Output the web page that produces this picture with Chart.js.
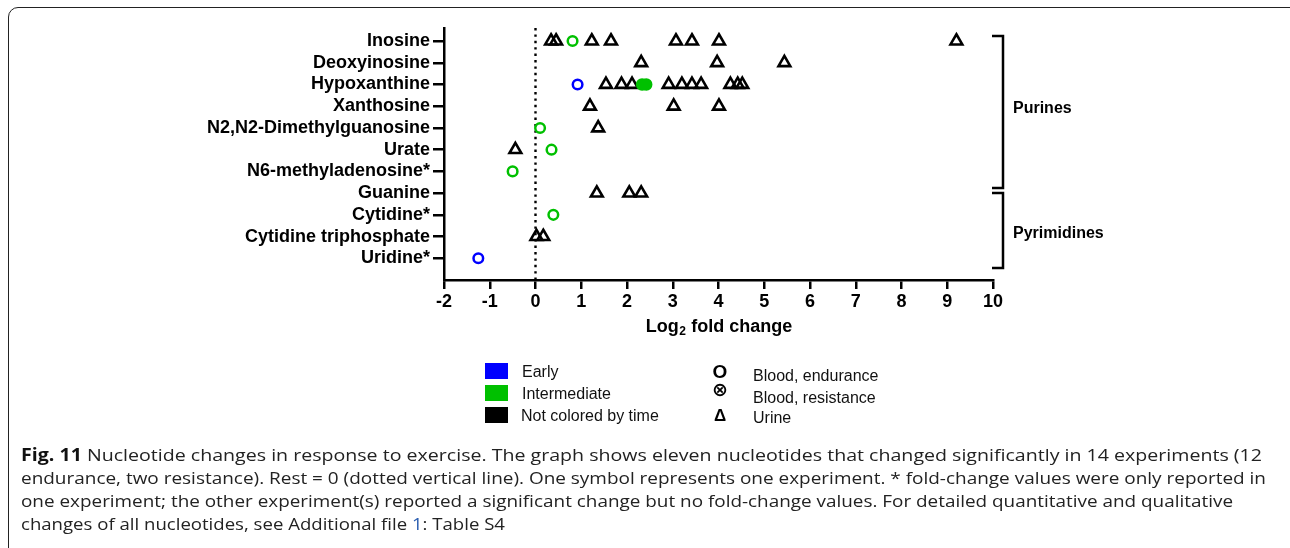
<!DOCTYPE html>
<html>
<head>
<meta charset="utf-8">
<script src="https://cdn.jsdelivr.net/npm/chart.js@4.4.1/dist/chart.umd.min.js"></script>
<style>
  html, body { margin:0; padding:0; background:#fff; }
  #wrap { position:relative; width:1290px; height:548px; overflow:hidden; background:#fff; }
  #frame { position:absolute; left:8px; top:7px; width:1320px; height:600px; border:1.6px solid #222; border-radius:10px; box-sizing:border-box; }
  canvas { position:absolute; left:0; top:0; }
  .leg { position:absolute; font-family:"Liberation Sans", Arial, sans-serif; font-size:16px; color:#111; white-space:nowrap; line-height:1; }
  .sq { position:absolute; width:23px; height:16px; }
  .sym { position:absolute; font-weight:bold; color:#000; line-height:1; transform:translate(-50%,-50%); }
  .cap { position:absolute; left:21px; font-family:"Open Sans", "Noto Sans", sans-serif; font-size:17px; color:#222; white-space:nowrap; transform-origin:0 50%; line-height:1; }
  .cap b { color:#111; }
  .cap .lnk { color:#2a5db0; }
</style>
</head>
<body>
<div id="wrap">
  <div id="frame"></div>
  <canvas id="c" width="1290" height="548"></canvas>

  <div class="sq" style="left:485px;top:363px;background:#0000ff"></div>
  <div class="sq" style="left:485px;top:385px;background:#00c000"></div>
  <div class="sq" style="left:485px;top:407px;background:#000"></div>
  <div class="leg" style="left:522px;top:364px">Early</div>
  <div class="leg" style="left:522px;top:386px">Intermediate</div>
  <div class="leg" style="left:521px;top:408px">Not colored by time</div>

  <div class="sym" style="left:720px;top:371px;font-size:19px;font-family:'Liberation Sans',Arial,sans-serif">O</div>
  <div class="sym" style="left:720px;top:389px;font-size:19px;font-family:'DejaVu Sans',sans-serif">⊗</div>
  <div class="sym" style="left:720px;top:415px;font-size:17px;font-family:'Liberation Sans',Arial,sans-serif">Δ</div>
  <div class="leg" style="left:753px;top:368px">Blood, endurance</div>
  <div class="leg" style="left:753px;top:390px">Blood, resistance</div>
  <div class="leg" style="left:753px;top:410px">Urine</div>

  <div class="cap" data-w="1241" style="top:446px"><b>Fig. 11</b> Nucleotide changes in response to exercise. The graph shows eleven nucleotides that changed significantly in 14 experiments (12</div>
  <div class="cap" data-w="1245" style="top:469px">endurance, two resistance). Rest = 0 (dotted vertical line). One symbol represents one experiment. * fold-change values were only reported in</div>
  <div class="cap" data-w="1212" style="top:492px">one experiment; the other experiment(s) reported a significant change but no fold-change values. For detailed quantitative and qualitative</div>
  <div class="cap" data-w="484" style="top:515px">changes of all nucleotides, see Additional file <span class="lnk">1</span>: Table S4</div>
</div>

<script>
// ---- data ----
const categories = ["Inosine","Deoxyinosine","Hypoxanthine","Xanthosine","N2,N2-Dimethylguanosine","Urate","N6-methyladenosine*","Guanine","Cytidine*","Cytidine triphosphate","Uridine*"];
const urine = [
  [0.34,0.45,1.23,1.65,3.07,3.42,4.01,9.20],
  [2.31,3.97,5.44],
  [1.54,1.88,2.11,2.91,3.20,3.42,3.62,4.26,4.42,4.52],
  [1.19,3.02,4.01],
  [1.37],
  [-0.44],
  [],
  [1.34,2.05,2.31],
  [],
  [0.02,0.17],
  []
];
const bloodEnduranceIntermediate = [[0.81],[],[],[],[0.10],[0.35],[-0.50],[],[0.39],[],[]];
const bloodEnduranceEarly = [[],[],[0.92],[],[],[],[],[],[],[],[-1.25]];
const bloodResistanceIntermediate = [[],[],[2.33,2.42],[],[],[],[],[],[],[],[]];
const xTicks = [-2,-1,0,1,2,3,4,5,6,7,8,9,10];
const groups = [
  {name:"Purines", from:-0.23, to:6.77},
  {name:"Pyrimidines", from:7.0, to:10.45}
];

function toPoints(arr){
  const out = [];
  arr.forEach((vals,i)=>vals.forEach(v=>out.push({x:v,y:i})));
  return out;
}

const FONT = '"Liberation Sans", Arial, sans-serif';

const annot = {
  id:'annot',
  afterDraw(chart){
    const ctx = chart.ctx;
    const ys = chart.scales.y;
    const ca = chart.chartArea;
    ctx.save();
    ctx.fillStyle = '#000';
    ctx.textBaseline = 'middle';
    const big = 'bold 18px ' + FONT, small = 'bold 12px ' + FONT;
    ctx.font = big; const w1 = ctx.measureText('Log').width;
    ctx.font = small; const w2 = ctx.measureText('2').width;
    ctx.font = big; const w3 = ctx.measureText(' fold change').width;
    const cx = (ca.left + ca.right)/2;
    let x0 = cx - (w1+w2+w3)/2;
    const ty = 327;
    ctx.font = big; ctx.fillText('Log', x0, ty);
    ctx.font = small; ctx.fillText('2', x0 + w1 + 0.5, ty + 5);
    ctx.font = big; ctx.fillText(' fold change', x0 + w1 + w2 + 1, ty);
    ctx.strokeStyle = '#000';
    ctx.lineWidth = 2.5;
    const bx = 1003, bl = 992;
    groups.forEach(g=>{
      const y1 = ys.getPixelForValue(g.from), y2 = ys.getPixelForValue(g.to);
      ctx.beginPath();
      ctx.moveTo(bl, y1); ctx.lineTo(bx, y1); ctx.lineTo(bx, y2); ctx.lineTo(bl, y2);
      ctx.stroke();
      ctx.font = 'bold 16px ' + FONT;
      ctx.textBaseline = 'middle';
      ctx.fillText(g.name, bx + 10, (y1+y2)/2 + 0.5 + (g.name==='Purines'? -4 : 3));
    });
    ctx.restore();
  }
};

new Chart(document.getElementById('c'), {
  type:'scatter',
  data:{
    datasets:[
      {label:'Blood, resistance (intermediate)', data:toPoints(bloodResistanceIntermediate), pointStyle:'circle', pointRadius:5, borderWidth:2.5, borderColor:'#00c000', backgroundColor:'#00c000', order:0},
      {label:'Blood, endurance (intermediate)', data:toPoints(bloodEnduranceIntermediate), pointStyle:'circle', pointRadius:4.8, borderWidth:2.5, borderColor:'#00c000', backgroundColor:'rgba(255,255,255,0)', order:1},
      {label:'Blood, endurance (early)', data:toPoints(bloodEnduranceEarly), pointStyle:'circle', pointRadius:4.8, borderWidth:2.5, borderColor:'#0000ff', backgroundColor:'rgba(255,255,255,0)', order:1},
      {label:'Urine', data:toPoints(urine), pointStyle:'triangle', pointRadius:6.8, borderWidth:2.6, borderColor:'#000', backgroundColor:'rgba(255,255,255,0)', order:2},
      {label:'Rest', type:'line', data:[{x:0,y:-0.6},{x:0,y:11}], borderColor:'#000', borderWidth:2.4, borderDash:[2.4,4], pointRadius:0, order:3}
    ]
  },
  options:{
    responsive:false,
    animation:false,
    devicePixelRatio:1,
    layout:{padding:{left:0, top:28, right:297, bottom:0}},
    plugins:{legend:{display:false}, tooltip:{enabled:false}},
    scales:{
      x:{
        type:'linear', min:-2, max:10,
        afterBuildTicks(s){ s.ticks = xTicks.map(v=>({value:v})); },
        afterFit(s){ s.height = 268; },
        border:{display:true, color:'#000', width:2.5},
        grid:{drawOnChartArea:false, drawTicks:true, tickLength:9, color:'#000', lineWidth:2.5},
        ticks:{color:'#000', padding:2, font:{family:FONT, size:18, weight:'bold'}, maxRotation:0, callback:(v)=>String(v)}
      },
      y:{
        type:'linear', reverse:true, min:-0.6, max:11,
        afterBuildTicks(s){ s.ticks = categories.map((c,i)=>({value:i})); },
        afterFit(s){ s.width = 444; },
        border:{display:true, color:'#000', width:2.5},
        grid:{drawOnChartArea:false, drawTicks:true, tickLength:11, color:'#000', lineWidth:2.5},
        ticks:{color:'#000', padding:3, font:{family:FONT, size:18, weight:'bold'}, callback:(v)=>categories[v]}
      }
    }
  },
  plugins:[annot]
});

// fit caption lines to measured widths
document.querySelectorAll('.cap[data-w]').forEach(el=>{
  const target = parseFloat(el.dataset.w);
  const w = el.getBoundingClientRect().width;
  if (w > 0) el.style.transform = 'scaleX(' + (target / w) + ')';
});
</script>
</body>
</html>
